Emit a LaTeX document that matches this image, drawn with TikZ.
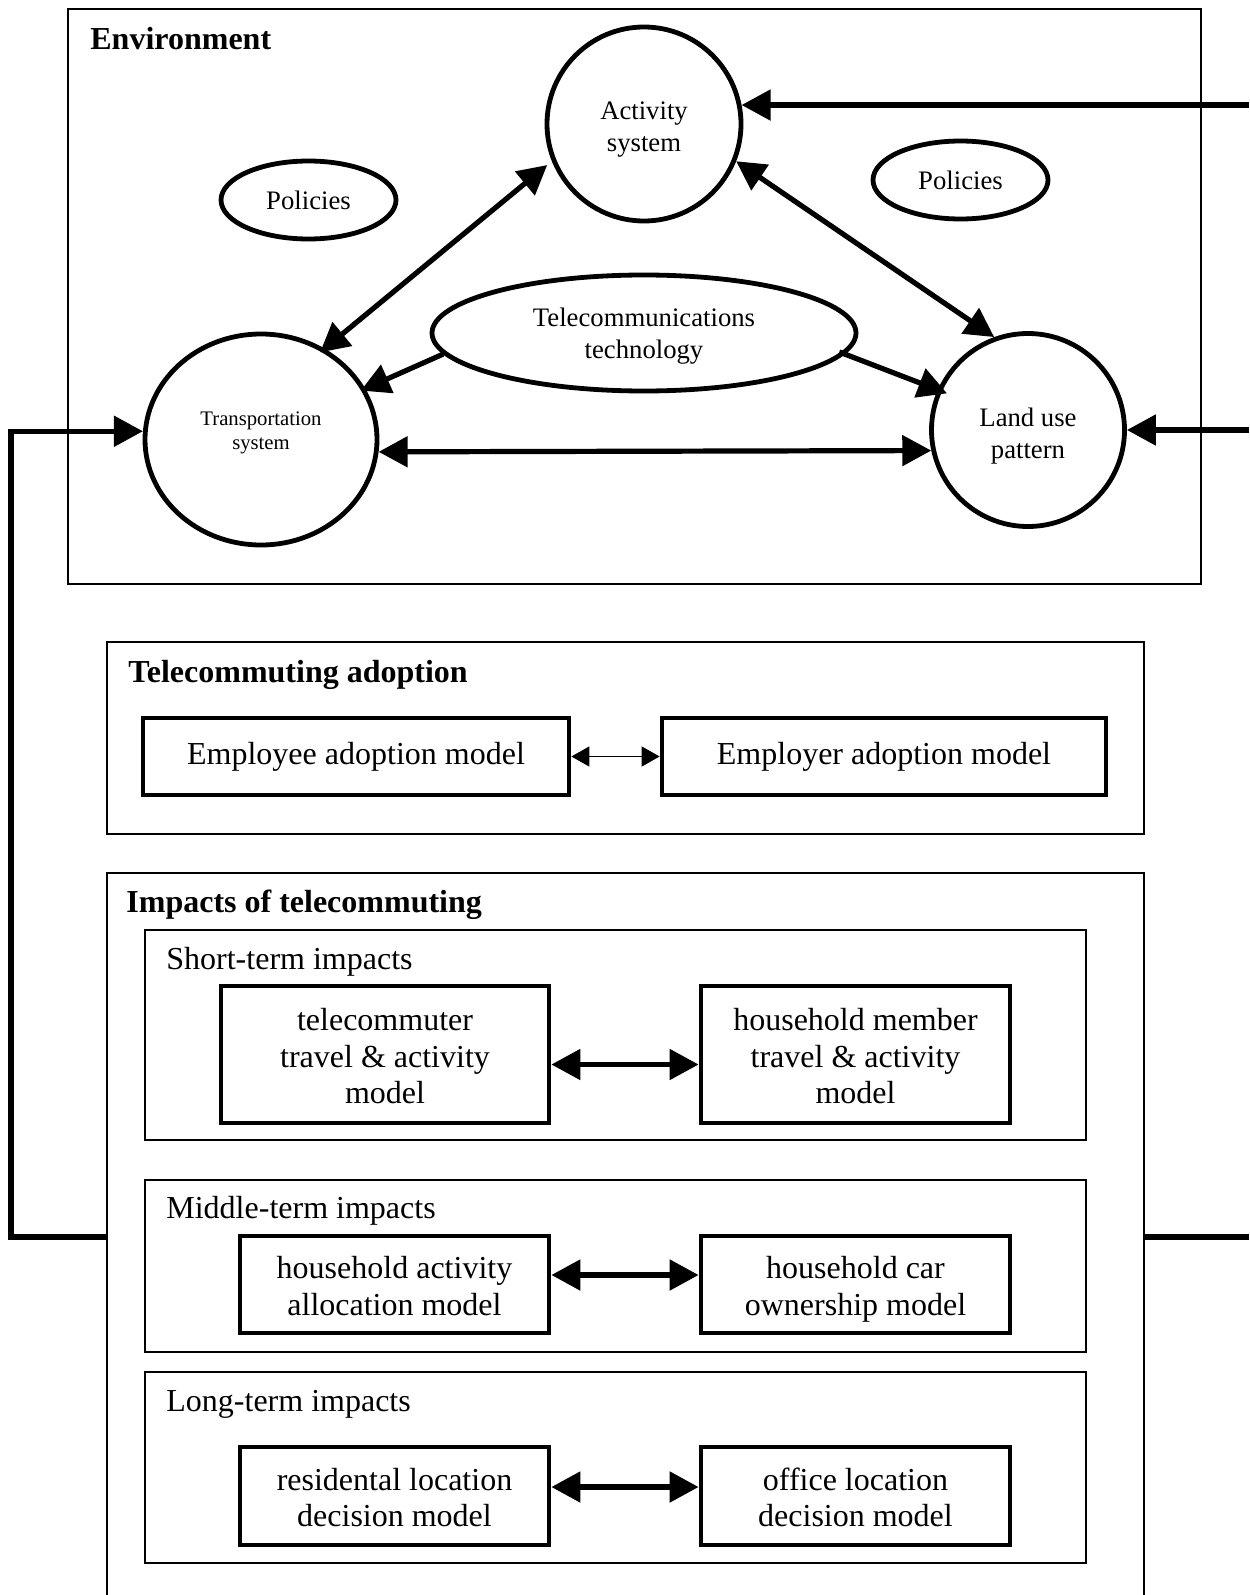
\documentclass[tikz,border=0pt]{standalone}
\usepackage{fontspec}
\setmainfont{Liberation Serif}
\usetikzlibrary{arrows.meta,shapes.geometric,calc}
\newcommand\mytop{\rule{0pt}{16pt}}
\newcommand\mybot{\rule[-3.5pt]{0pt}{0pt}}
\begin{document}
\begin{tikzpicture}[x=0.5pt,y=-0.5pt,
  thinbox/.style={draw,line width=0.9pt,inner sep=0pt},
  modelbox/.style={draw,line width=2.4pt,align=center,inner sep=0pt,font=\fontsize{16}{18.3}\selectfont},
  envnode/.style={draw,line width=2.4pt,align=center,inner sep=0pt,font=\fontsize{13.35}{15.8}\selectfont},
  heading/.style={anchor=base west,inner sep=0pt,font=\fontsize{16}{18}\selectfont\bfseries},
  subheading/.style={anchor=base west,inner sep=0pt,font=\fontsize{16}{18}\selectfont},
  bigtip/.tip={Triangle[length=14.5pt,width=15pt]},
  smalltip/.tip={Triangle[length=9pt,width=10pt]},
  envarrow/.style={line width=2.6pt,bigtip-bigtip},
  onearrow/.style={line width=2.6pt,-bigtip},
  adoptarrow/.style={line width=0.8pt,smalltip-smalltip},
  fbline/.style={line width=2.6pt,line join=miter}
]
\useasboundingbox (0,0) rectangle (1249,1595);

% ---------- Environment ----------
\node[thinbox,minimum width=566.5pt,minimum height=287.5pt] (env) at (634.5,296.5) {};
\node[heading] (envt) at (90,50) {Environment};

\node[envnode,circle,minimum size=97pt] (act) at (644,124) {\rule{0pt}{14.1pt}Activity\\system};
\node[envnode,circle,minimum size=96.5pt] (land) at (1028,430) {\rule{0pt}{15.1pt}Land use\\pattern};
\node[envnode,ellipse,minimum width=116pt,minimum height=105.5pt] (trans) at (261,439.5) {};
\node[inner sep=0pt,align=center,font=\fontsize{10.35}{11.7}\selectfont] (transt) at (261,433) {Transportation\\system};
\node[envnode,ellipse,minimum width=87.5pt,minimum height=39pt] (polL) at (308.5,200) {Policies};
\node[envnode,ellipse,minimum width=87.5pt,minimum height=39pt] (polR) at (960.5,180) {Policies};
\node[envnode,ellipse,minimum width=212pt,minimum height=58pt] (tel) at (644,333) {\rule{0pt}{12.1pt}Telecommunications\\technology};

\draw[envarrow,shorten <=3pt,shorten >=-3pt] (act.202) -- (trans.55.6);
\draw[envarrow] (act.-22) -- (land.110);
\draw[envarrow] (trans.-6) -- (land.192.6);
\draw[onearrow,shorten >=-2.5pt] (tel.186) -- (trans.26.6);
\draw[onearrow,shorten <=-3pt,shorten >=-5pt] (tel.-6) -- (land.156);

\coordinate (inR) at (1249,0);
\draw[onearrow] (inR |- act.11) -- (act.11);
\draw[onearrow] (inR |- land.east) -- (land.east);

% ---------- Telecommuting adoption ----------
\node[thinbox,minimum width=518.5pt,minimum height=96pt] (adopt) at (625.5,738) {};
\node[heading] (adoptt) at (128,682) {Telecommuting adoption};
\node[modelbox,minimum width=213pt,minimum height=38.5pt] (emp) at (356,756.5) {Employee adoption model};
\node[modelbox,minimum width=222pt,minimum height=38.5pt] (empr) at (884,756.5) {Employer adoption model};
\draw[adoptarrow] (emp.east) -- (empr.west);

% ---------- Impacts ----------
\node[thinbox,minimum width=518.5pt,minimum height=373.5pt] (imp) at (625.5,1246.5) {};
\node[heading] (impt) at (126,912) {Impacts of telecommuting};

\node[thinbox,minimum width=470.5pt,minimum height=105pt] (st) at (615.5,1035) {};
\node[subheading] (stt) at (166,969) {Short-term impacts};
\node[modelbox,minimum width=164pt,minimum height=68.5pt] (tc) at (385,1054.5) {\mytop telecommuter\\travel \& activity\\model\mybot};
\node[modelbox,minimum width=154.5pt,minimum height=68.5pt] (hm) at (855.5,1054.5) {\mytop household member\\travel \& activity\\model\mybot};
\draw[envarrow] ([yshift=-5pt]tc.east) -- ([yshift=-5pt]hm.west);

\node[thinbox,minimum width=470.5pt,minimum height=86pt] (mt) at (615.5,1266) {};
\node[subheading] (mtt) at (166,1218) {Middle-term impacts};
\node[modelbox,minimum width=154.5pt,minimum height=48.5pt] (ha) at (394.5,1284.5) {\mytop household activity\\allocation model\mybot};
\node[modelbox,minimum width=154.5pt,minimum height=48.5pt] (hc) at (855.5,1284.5) {\mytop household car\\ownership model\mybot};
\draw[envarrow] ([yshift=4.75pt]ha.east) -- ([yshift=4.75pt]hc.west);

\node[thinbox,minimum width=470.5pt,minimum height=95.5pt] (lt) at (615.5,1467.5) {};
\node[subheading] (ltt) at (166,1411) {Long-term impacts};
\node[modelbox,minimum width=154.5pt,minimum height=49pt] (rl) at (394.5,1496) {\mytop residental location\\decision model\mybot};
\node[modelbox,minimum width=154.5pt,minimum height=49pt] (ol) at (855.5,1496) {\mytop office location\\decision model\mybot};
\draw[envarrow] ([yshift=4.5pt]rl.east) -- ([yshift=4.5pt]ol.west);

% ---------- Feedback lines ----------
\coordinate (fbL) at (11,1237);
\coordinate (fbR) at (1249,1237);
\draw[fbline,-bigtip] (imp.west |- fbL) -- (fbL) -- (fbL |- trans.176) -- (trans.176);
\draw[fbline] (imp.east |- fbR) -- (fbR);
\end{tikzpicture}
\end{document}
